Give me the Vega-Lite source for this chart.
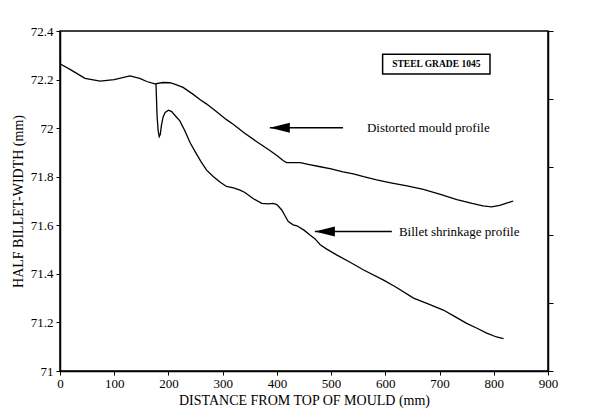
{
  "$schema": "https://vega.github.io/schema/vega-lite/v6.json",
  "width": 488,
  "height": 340,
  "autosize": "none",
  "padding": {"left": 60, "top": 31, "right": 54, "bottom": 47},
  "background": "white",
  "config": {
    "font": "Liberation Serif",
    "view": {"stroke": "black", "strokeWidth": 1.5},
    "axis": {
      "grid": false,
      "labelFont": "Liberation Serif",
      "labelFontSize": 13,
      "labelColor": "black",
      "labelFlush": false,
      "titleFont": "Liberation Serif",
      "titleFontSize": 14,
      "titleFontWeight": "normal",
      "titleColor": "black",
      "domainColor": "black",
      "domainWidth": 1.5,
      "tickColor": "black",
      "tickSize": 4,
      "labelPadding": 2
    }
  },
  "datasets": {
    "profiles": [
      {"profile": "mould", "distance": 0, "width": 72.265},
      {"profile": "mould", "distance": 20, "width": 72.24},
      {"profile": "mould", "distance": 46, "width": 72.205},
      {"profile": "mould", "distance": 74, "width": 72.194},
      {"profile": "mould", "distance": 100, "width": 72.2},
      {"profile": "mould", "distance": 129, "width": 72.215},
      {"profile": "mould", "distance": 147, "width": 72.205},
      {"profile": "mould", "distance": 160, "width": 72.192},
      {"profile": "mould", "distance": 175, "width": 72.182},
      {"profile": "mould", "distance": 190, "width": 72.188},
      {"profile": "mould", "distance": 203, "width": 72.187},
      {"profile": "mould", "distance": 215, "width": 72.178},
      {"profile": "mould", "distance": 227, "width": 72.168},
      {"profile": "mould", "distance": 245, "width": 72.14},
      {"profile": "mould", "distance": 258, "width": 72.118},
      {"profile": "mould", "distance": 270, "width": 72.1},
      {"profile": "mould", "distance": 290, "width": 72.065},
      {"profile": "mould", "distance": 307, "width": 72.035},
      {"profile": "mould", "distance": 320, "width": 72.015},
      {"profile": "mould", "distance": 340, "width": 71.98},
      {"profile": "mould", "distance": 363, "width": 71.944},
      {"profile": "mould", "distance": 387, "width": 71.908},
      {"profile": "mould", "distance": 400, "width": 71.887},
      {"profile": "mould", "distance": 412, "width": 71.866},
      {"profile": "mould", "distance": 418, "width": 71.858},
      {"profile": "mould", "distance": 443, "width": 71.858},
      {"profile": "mould", "distance": 460, "width": 71.85},
      {"profile": "mould", "distance": 480, "width": 71.841},
      {"profile": "mould", "distance": 500, "width": 71.832},
      {"profile": "mould", "distance": 522, "width": 71.82},
      {"profile": "mould", "distance": 541, "width": 71.812},
      {"profile": "mould", "distance": 560, "width": 71.8},
      {"profile": "mould", "distance": 584, "width": 71.787},
      {"profile": "mould", "distance": 610, "width": 71.775},
      {"profile": "mould", "distance": 640, "width": 71.762},
      {"profile": "mould", "distance": 670, "width": 71.748},
      {"profile": "mould", "distance": 700, "width": 71.728},
      {"profile": "mould", "distance": 732, "width": 71.706},
      {"profile": "mould", "distance": 760, "width": 71.69},
      {"profile": "mould", "distance": 780, "width": 71.68},
      {"profile": "mould", "distance": 796, "width": 71.676},
      {"profile": "mould", "distance": 811, "width": 71.682},
      {"profile": "mould", "distance": 825, "width": 71.692},
      {"profile": "mould", "distance": 836, "width": 71.7},
      {"profile": "billet", "distance": 177, "width": 72.182},
      {"profile": "billet", "distance": 178, "width": 72.12},
      {"profile": "billet", "distance": 179, "width": 72.05},
      {"profile": "billet", "distance": 181, "width": 71.99},
      {"profile": "billet", "distance": 183, "width": 71.965},
      {"profile": "billet", "distance": 185, "width": 71.975},
      {"profile": "billet", "distance": 187, "width": 72.01},
      {"profile": "billet", "distance": 190, "width": 72.045},
      {"profile": "billet", "distance": 194, "width": 72.065},
      {"profile": "billet", "distance": 200, "width": 72.074},
      {"profile": "billet", "distance": 206, "width": 72.068},
      {"profile": "billet", "distance": 213, "width": 72.05},
      {"profile": "billet", "distance": 221, "width": 72.03},
      {"profile": "billet", "distance": 230, "width": 71.99},
      {"profile": "billet", "distance": 240, "width": 71.94},
      {"profile": "billet", "distance": 250, "width": 71.9},
      {"profile": "billet", "distance": 260, "width": 71.862},
      {"profile": "billet", "distance": 270, "width": 71.828},
      {"profile": "billet", "distance": 283, "width": 71.8},
      {"profile": "billet", "distance": 295, "width": 71.778},
      {"profile": "billet", "distance": 307, "width": 71.76},
      {"profile": "billet", "distance": 320, "width": 71.754},
      {"profile": "billet", "distance": 332, "width": 71.745},
      {"profile": "billet", "distance": 341, "width": 71.735},
      {"profile": "billet", "distance": 356, "width": 71.71},
      {"profile": "billet", "distance": 372, "width": 71.69},
      {"profile": "billet", "distance": 385, "width": 71.688},
      {"profile": "billet", "distance": 393, "width": 71.69},
      {"profile": "billet", "distance": 400, "width": 71.685},
      {"profile": "billet", "distance": 409, "width": 71.663},
      {"profile": "billet", "distance": 416, "width": 71.635},
      {"profile": "billet", "distance": 421, "width": 71.615},
      {"profile": "billet", "distance": 430, "width": 71.602},
      {"profile": "billet", "distance": 437, "width": 71.598},
      {"profile": "billet", "distance": 450, "width": 71.58},
      {"profile": "billet", "distance": 461, "width": 71.56},
      {"profile": "billet", "distance": 470, "width": 71.545},
      {"profile": "billet", "distance": 480, "width": 71.52},
      {"profile": "billet", "distance": 492, "width": 71.502},
      {"profile": "billet", "distance": 510, "width": 71.478},
      {"profile": "billet", "distance": 535, "width": 71.448},
      {"profile": "billet", "distance": 560, "width": 71.416},
      {"profile": "billet", "distance": 596, "width": 71.375},
      {"profile": "billet", "distance": 620, "width": 71.345},
      {"profile": "billet", "distance": 652, "width": 71.3},
      {"profile": "billet", "distance": 680, "width": 71.275},
      {"profile": "billet", "distance": 707, "width": 71.251},
      {"profile": "billet", "distance": 730, "width": 71.222},
      {"profile": "billet", "distance": 750, "width": 71.196},
      {"profile": "billet", "distance": 770, "width": 71.175},
      {"profile": "billet", "distance": 787, "width": 71.156},
      {"profile": "billet", "distance": 805, "width": 71.14},
      {"profile": "billet", "distance": 818, "width": 71.133}
    ],
    "arrows": [
      {"tip": 387, "tail": 522, "y": 72.002, "textX": 566, "label": "Distorted mould profile"},
      {"tip": 470, "tail": 612, "y": 71.574, "textX": 625, "label": "Billet shrinkage profile"}
    ],
    "box": [
      {"x1": 595, "x2": 793, "y1": 72.223, "y2": 72.304, "cx": 694, "cy": 72.264, "label": "STEEL GRADE 1045"}
    ],
    "rightTicks": [
      {"v": 71}, {"v": 71.28}, {"v": 71.56}, {"v": 71.84}, {"v": 72.12}, {"v": 72.4}
    ]
  },
  "layer": [
    {
      "data": {"name": "profiles"},
      "mark": {"type": "line", "color": "black", "strokeWidth": 1.3},
      "encoding": {
        "x": {
          "field": "distance",
          "type": "quantitative",
          "title": "DISTANCE FROM TOP OF MOULD (mm)",
          "scale": {"domain": [0, 900], "nice": false},
          "axis": {"values": [0, 100, 200, 300, 400, 500, 600, 700, 800, 900], "titlePadding": 3}
        },
        "y": {
          "field": "width",
          "type": "quantitative",
          "scale": {"domain": [71, 72.4], "nice": false, "zero": false},
          "axis": {"values": [71, 71.2, 71.4, 71.6, 71.8, 72, 72.2, 72.4], "format": "~g", "title": "HALF BILLET-WIDTH (mm)", "titleX": -42, "titleBaseline": "middle", "labelPadding": 3}
        },
        "detail": {"field": "profile"}
      }
    },
    {
      "data": {"name": "rightTicks"},
      "mark": {"type": "tick", "opacity": 0},
      "encoding": {
        "y": {
          "field": "v",
          "type": "quantitative",
          "axis": {"orient": "right", "values": [71, 71.28, 71.56, 71.84, 72.12, 72.4], "labels": false, "title": null, "tickSize": 5}
        }
      }
    },
    {
      "data": {"name": "arrows"},
      "mark": {"type": "rule", "color": "black", "strokeWidth": 1.5},
      "encoding": {
        "x": {"field": "tip", "type": "quantitative", "title": "DISTANCE FROM TOP OF MOULD (mm)"},
        "x2": {"field": "tail"},
        "y": {"field": "y", "type": "quantitative", "axis": null}
      }
    },
    {
      "data": {"name": "arrows"},
      "mark": {"type": "point", "shape": "M0,0L2,-0.5L2,0.5Z", "filled": true, "size": 400, "color": "black", "opacity": 1},
      "encoding": {
        "x": {"field": "tip", "type": "quantitative", "title": "DISTANCE FROM TOP OF MOULD (mm)"},
        "y": {"field": "y", "type": "quantitative", "axis": null}
      }
    },
    {
      "data": {"name": "arrows"},
      "mark": {"type": "text", "align": "left", "baseline": "middle", "fontSize": 13, "font": "Liberation Serif", "color": "black"},
      "encoding": {
        "x": {"field": "textX", "type": "quantitative", "title": "DISTANCE FROM TOP OF MOULD (mm)"},
        "y": {"field": "y", "type": "quantitative", "axis": null},
        "text": {"field": "label"}
      }
    },
    {
      "data": {"name": "box"},
      "mark": {"type": "rect", "fillOpacity": 0, "stroke": "black", "strokeWidth": 1.5},
      "encoding": {
        "x": {"field": "x1", "type": "quantitative", "title": "DISTANCE FROM TOP OF MOULD (mm)"},
        "x2": {"field": "x2"},
        "y": {"field": "y1", "type": "quantitative", "axis": null},
        "y2": {"field": "y2"}
      }
    },
    {
      "data": {"name": "box"},
      "mark": {"type": "text", "align": "center", "baseline": "middle", "fontSize": 9.5, "fontWeight": "bold", "font": "Liberation Serif", "color": "black"},
      "encoding": {
        "x": {"field": "cx", "type": "quantitative", "title": "DISTANCE FROM TOP OF MOULD (mm)"},
        "y": {"field": "cy", "type": "quantitative", "axis": null},
        "text": {"field": "label"}
      }
    }
  ],
  "resolve": {"axis": {"y": "independent"}}
}
